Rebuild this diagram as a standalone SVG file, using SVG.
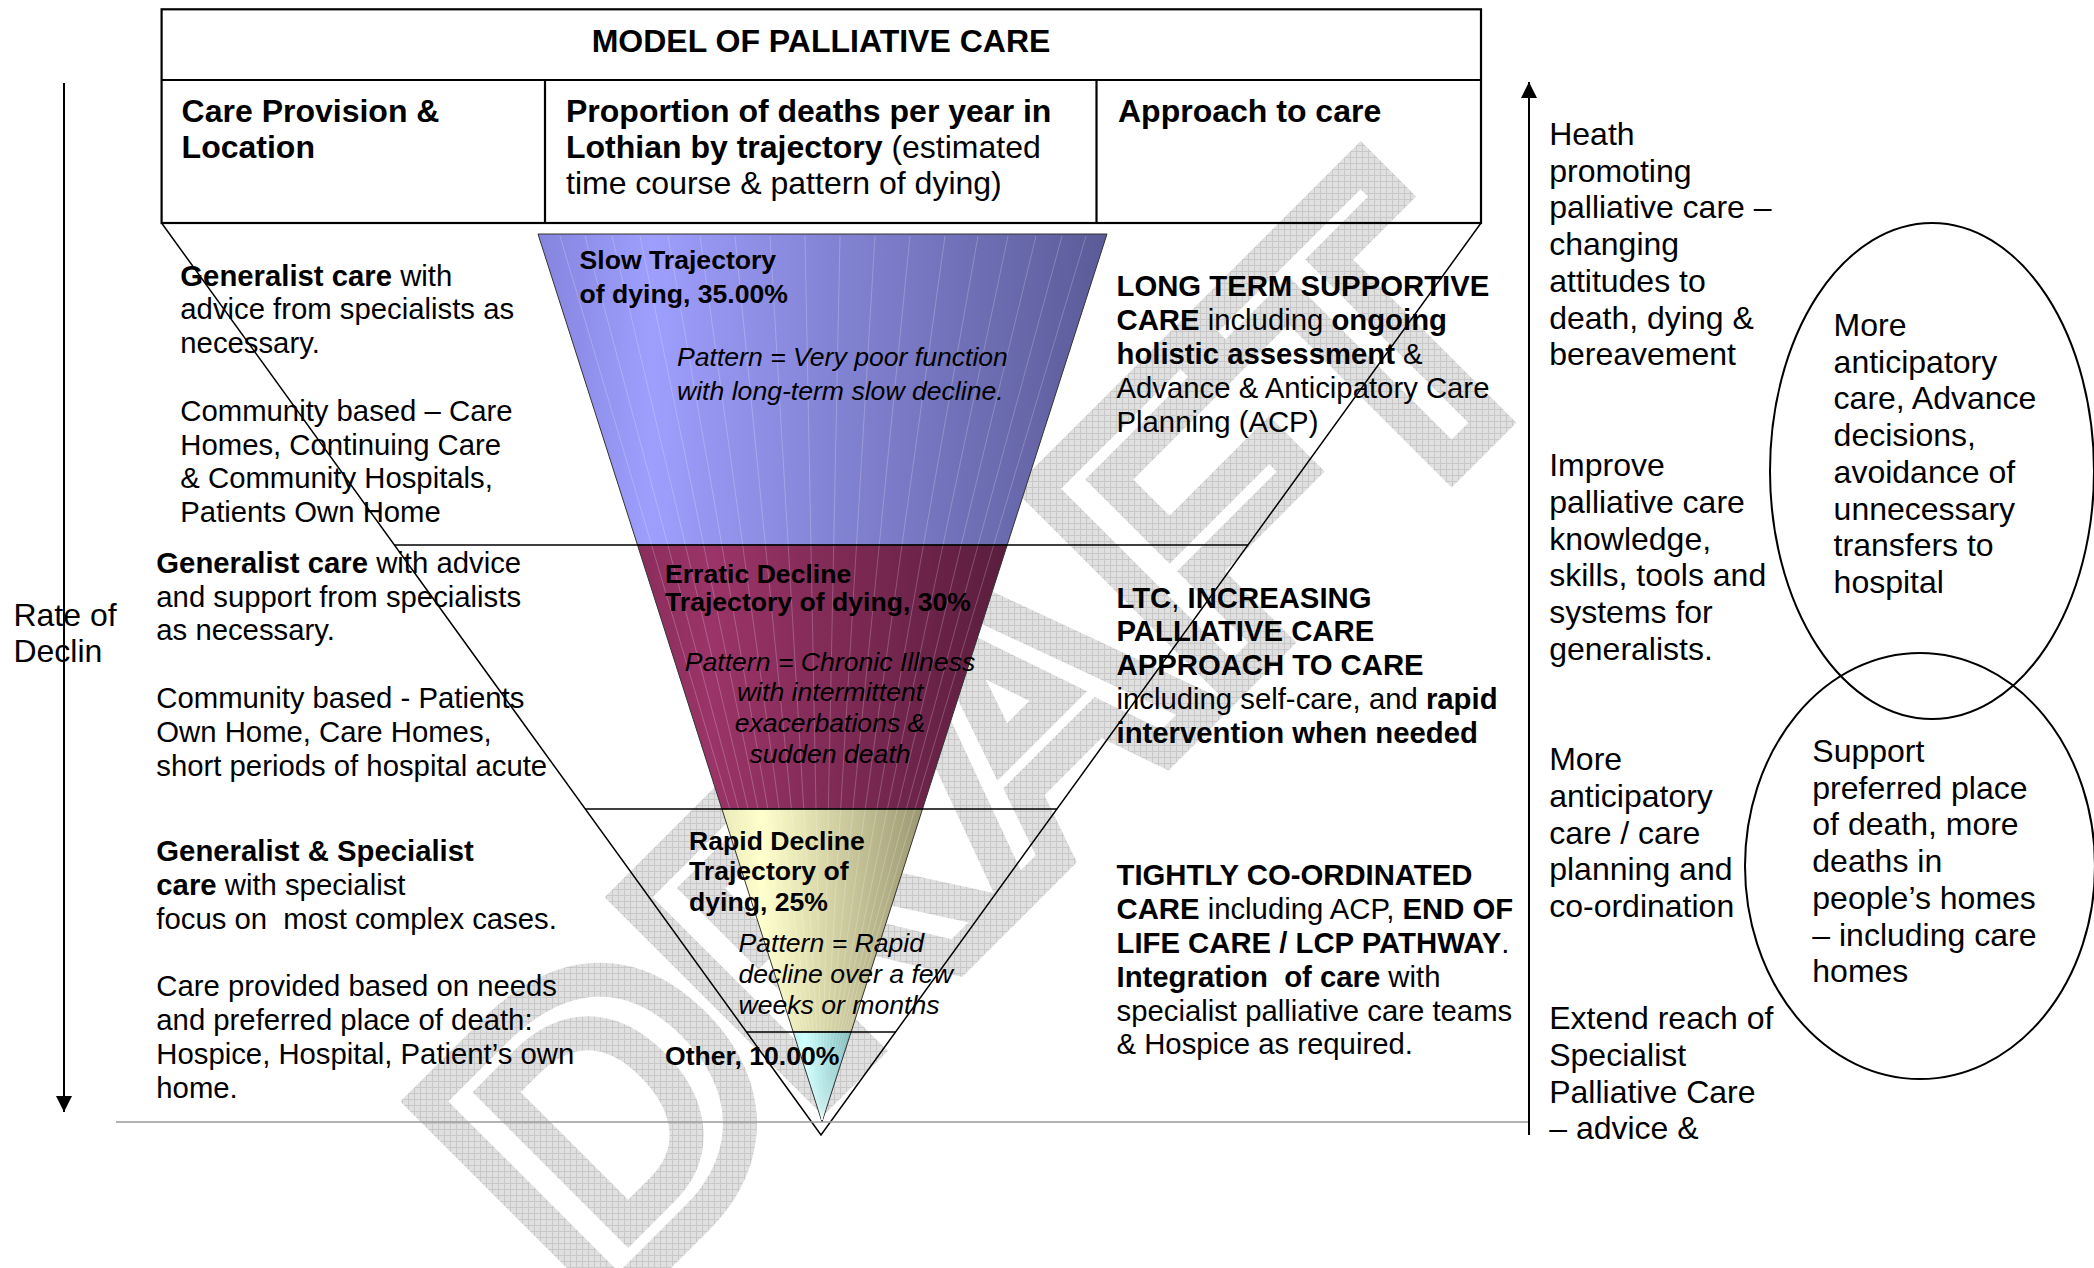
<svg xmlns="http://www.w3.org/2000/svg" width="2094" height="1268" viewBox="0 0 2094 1268">
<defs>
<style>
text{font-family:"Liberation Sans",Arial,Helvetica,sans-serif;fill:#000}
.b{font-weight:bold}
.s32{font-size:32px}
.s29{font-size:29.3px}
.s27{font-size:26.6px}
.it{font-style:italic}
.ln{stroke:#000;stroke-width:1.5;fill:none}
.tb{stroke:#000;stroke-width:2.2;fill:none}
.fn{stroke:#333;stroke-width:1}
</style>
<pattern id="hatch" width="6" height="6" patternUnits="userSpaceOnUse" patternTransform="rotate(45)"><rect width="6" height="6" fill="#e0e0e0"/><path d="M0 0.5H6M0.5 0V6" stroke="#c8c8c8" stroke-width="1"/></pattern>
<linearGradient id="gSlow" x1="0" y1="0" x2="1" y2="0"><stop offset="0" stop-color="#8585df"/><stop offset="0.2" stop-color="#9e9efd"/><stop offset="1" stop-color="#5b5b98"/></linearGradient>
<linearGradient id="gErr" x1="0" y1="0" x2="1" y2="0"><stop offset="0" stop-color="#8b2d5d"/><stop offset="0.2" stop-color="#9b3468"/><stop offset="1" stop-color="#5a1d3d"/></linearGradient>
<linearGradient id="gRap" x1="0" y1="0" x2="1" y2="0"><stop offset="0" stop-color="#eaeab8"/><stop offset="0.2" stop-color="#ffffcc"/><stop offset="1" stop-color="#9c9872"/></linearGradient>
<linearGradient id="gOth" x1="0" y1="0" x2="1" y2="0"><stop offset="0" stop-color="#bff0f0"/><stop offset="0.2" stop-color="#ccffff"/><stop offset="1" stop-color="#80b8b8"/></linearGradient>
<marker id="arr" viewBox="0 0 10 10" refX="10" refY="5" markerUnits="userSpaceOnUse" markerWidth="16" markerHeight="16" orient="auto"><path d="M0 0L10 5L0 10z" fill="#000"/></marker>
</defs>
<rect width="2094" height="1268" fill="#fff"/>

<g id="watermark">
<text transform="translate(600,1315) rotate(-45)" font-size="400" class="b" stroke="url(#hatch)" stroke-width="34" style="fill:none">DRAFT</text>
</g>

<g id="table">
<rect x="161.6" y="9.3" width="1319.4" height="213.7" class="tb"/>
<line x1="161.6" y1="80" x2="1481" y2="80" class="tb"/>
<line x1="545" y1="80" x2="545" y2="223" class="tb"/>
<line x1="1096.5" y1="80" x2="1096.5" y2="223" class="tb"/>
<text x="821" y="51.5" class="b s32" text-anchor="middle">MODEL OF PALLIATIVE CARE</text>
<text class="b s32"><tspan x="181.6" y="122">Care Provision &amp;</tspan><tspan x="181.6" y="158">Location</tspan></text>
<text class="s32"><tspan x="566" y="122" class="b">Proportion of deaths per year in</tspan><tspan x="566" y="158"><tspan class="b">Lothian by trajectory</tspan> (estimated</tspan><tspan x="566" y="194">time course &amp; pattern of dying)</tspan></text>
<text x="1118" y="122" class="b s32">Approach to care</text>
</g>

<g id="funnel">
<polygon points="538,234 1107,234 1007.2,545 637.5,545" fill="url(#gSlow)" class="fn"/>
<polygon points="637.5,545 1007.2,545 922.5,809 721.9,809" fill="url(#gErr)" class="fn"/>
<polygon points="721.9,809 922.5,809 851.1,1032 793.2,1032" fill="url(#gRap)" class="fn"/>
<polygon points="793.2,1032 851.1,1032 822,1122" fill="url(#gOth)" class="fn"/>
<path d="M560 236L822 1120M585 236L822 1120M612 236L822 1120M640 236L822 1120M668 236L822 1120M700 236L822 1120M735 236L822 1120M770 236L822 1120M805 236L822 1120M840 236L822 1120M875 236L822 1120M910 236L822 1120M945 236L822 1120M978 236L822 1120M1008 236L822 1120M1036 236L822 1120M1062 236L822 1120M1086 236L822 1120" stroke="#fff" stroke-opacity="0.28" stroke-width="0.8" fill="none"/>
</g>

<g id="connectors">
<polyline points="161.6,223 821,1135 1481,223" class="ln"/>
<line x1="394.4" y1="545" x2="1248.2" y2="545" class="ln"/>
<line x1="585.3" y1="809" x2="1057.3" y2="809" class="ln"/>
<line x1="746.5" y1="1032" x2="896" y2="1032" class="ln"/>
<line x1="116" y1="1122" x2="1529" y2="1122" stroke="#9a9a9a" stroke-width="1.5"/>
<line x1="64" y1="83" x2="64" y2="1112" stroke="#000" stroke-width="2" marker-end="url(#arr)"/>
<line x1="1529" y1="1135" x2="1529" y2="82" stroke="#000" stroke-width="2" marker-end="url(#arr)"/>
</g>

<g id="funnel-labels">
<text class="b s27"><tspan x="579.6" y="268.5">Slow Trajectory</tspan><tspan x="579.6" y="303.3">of dying, 35.00%</tspan></text>
<text class="it s27"><tspan x="677" y="366">Pattern = Very poor function</tspan><tspan x="677" y="399.5">with long-term slow decline.</tspan></text>
<text class="b s27"><tspan x="665" y="582.5">Erratic Decline</tspan><tspan x="665" y="610.5">Trajectory of dying, 30%</tspan></text>
<text class="it s27" text-anchor="middle"><tspan x="830" y="670.5">Pattern = Chronic Illness</tspan><tspan x="830" y="701.3">with intermittent</tspan><tspan x="830" y="732">exacerbations &amp;</tspan><tspan x="830" y="762.7">sudden death</tspan></text>
<text class="b s27"><tspan x="689" y="849.5">Rapid Decline</tspan><tspan x="689" y="880.3">Trajectory of</tspan><tspan x="689" y="911">dying, 25%</tspan></text>
<text class="it s27"><tspan x="738.5" y="952.4">Pattern = Rapid</tspan><tspan x="738.5" y="983">decline over a few</tspan><tspan x="738.5" y="1013.8">weeks or months</tspan></text>
<text x="665" y="1064.5" class="b s27">Other, 10.00%</text>
</g>

<g id="care-provision">
<text class="s29"><tspan x="180.3" y="285.5"><tspan class="b">Generalist care</tspan> with</tspan><tspan x="180.3" y="319.3">advice from specialists as</tspan><tspan x="180.3" y="353.1">necessary.</tspan><tspan x="180.3" y="420.7">Community based – Care</tspan><tspan x="180.3" y="454.5">Homes, Continuing Care</tspan><tspan x="180.3" y="488.3">&amp; Community Hospitals,</tspan><tspan x="180.3" y="522.1">Patients Own Home</tspan></text>
<text class="s29"><tspan x="156.3" y="572.7"><tspan class="b">Generalist care</tspan> with advice</tspan><tspan x="156.3" y="606.5">and support from specialists</tspan><tspan x="156.3" y="640.3">as necessary.</tspan><tspan x="156.3" y="707.9">Community based - Patients</tspan><tspan x="156.3" y="741.7">Own Home, Care Homes,</tspan><tspan x="156.3" y="775.5">short periods of hospital acute</tspan></text>
<text class="s29" xml:space="preserve"><tspan x="156.3" y="861.2" class="b">Generalist &amp; Specialist</tspan><tspan x="156.3" y="895"><tspan class="b">care</tspan> with specialist</tspan><tspan x="156.3" y="928.8">focus on  most complex cases.</tspan><tspan x="156.3" y="996.4">Care provided based on needs</tspan><tspan x="156.3" y="1030.2">and preferred place of death:</tspan><tspan x="156.3" y="1064">Hospice, Hospital, Patient’s own</tspan><tspan x="156.3" y="1097.8">home.</tspan></text>
</g>

<g id="approach">
<text class="s29"><tspan x="1116.5" y="296.3" class="b">LONG TERM SUPPORTIVE</tspan><tspan x="1116.5" y="330.1"><tspan class="b">CARE</tspan> including <tspan class="b">ongoing</tspan></tspan><tspan x="1116.5" y="363.9"><tspan class="b">holistic assessment</tspan> &amp;</tspan><tspan x="1116.5" y="397.7">Advance &amp; Anticipatory Care</tspan><tspan x="1116.5" y="431.5">Planning (ACP)</tspan></text>
<text class="s29"><tspan x="1116.5" y="607.5"><tspan class="b">LTC</tspan>, <tspan class="b">INCREASING</tspan></tspan><tspan x="1116.5" y="641.3" class="b">PALLIATIVE CARE</tspan><tspan x="1116.5" y="675.1" class="b">APPROACH TO CARE</tspan><tspan x="1116.5" y="708.9">including self-care, and <tspan class="b">rapid</tspan></tspan><tspan x="1116.5" y="742.7" class="b">intervention when needed</tspan></text>
<text class="s29" xml:space="preserve"><tspan x="1116.5" y="885.3" class="b">TIGHTLY CO-ORDINATED</tspan><tspan x="1116.5" y="919.1"><tspan class="b">CARE</tspan> including ACP, <tspan class="b">END OF</tspan></tspan><tspan x="1116.5" y="952.9"><tspan class="b">LIFE CARE / LCP PATHWAY</tspan>.</tspan><tspan x="1116.5" y="986.7"><tspan class="b">Integration  of care</tspan> with</tspan><tspan x="1116.5" y="1020.5">specialist palliative care teams</tspan><tspan x="1116.5" y="1054.3">&amp; Hospice as required.</tspan></text>
</g>

<g id="rate-of-decline">
<text class="s32"><tspan x="13.4" y="625.8">Rate of</tspan><tspan x="13.4" y="662">Declin</tspan></text>
</g>

<g id="strategies">
<text class="s32"><tspan x="1549.2" y="145">Heath</tspan><tspan x="1549.2" y="181.7">promoting</tspan><tspan x="1549.2" y="218.4">palliative care –</tspan><tspan x="1549.2" y="255.1">changing</tspan><tspan x="1549.2" y="291.8">attitudes to</tspan><tspan x="1549.2" y="328.5">death, dying &amp;</tspan><tspan x="1549.2" y="365.2">bereavement</tspan></text>
<text class="s32"><tspan x="1549.2" y="476.3">Improve</tspan><tspan x="1549.2" y="513">palliative care</tspan><tspan x="1549.2" y="549.7">knowledge,</tspan><tspan x="1549.2" y="586.4">skills, tools and</tspan><tspan x="1549.2" y="623.1">systems for</tspan><tspan x="1549.2" y="659.8">generalists.</tspan></text>
<text class="s32"><tspan x="1549.2" y="770.1">More</tspan><tspan x="1549.2" y="806.8">anticipatory</tspan><tspan x="1549.2" y="843.5">care / care</tspan><tspan x="1549.2" y="880.2">planning and</tspan><tspan x="1549.2" y="916.9">co-ordination</tspan></text>
<text class="s32"><tspan x="1549.2" y="1029.2">Extend reach of</tspan><tspan x="1549.2" y="1065.9">Specialist</tspan><tspan x="1549.2" y="1102.6">Palliative Care</tspan><tspan x="1549.2" y="1139.3">– advice &amp;</tspan></text>
</g>

<g id="ellipse-anticipatory">
<ellipse cx="1932" cy="471" rx="162" ry="248" class="tb" style="stroke-width:2"/>
<text class="s32"><tspan x="1833.6" y="336">More</tspan><tspan x="1833.6" y="372.7">anticipatory</tspan><tspan x="1833.6" y="409.4">care, Advance</tspan><tspan x="1833.6" y="446.1">decisions,</tspan><tspan x="1833.6" y="482.8">avoidance of</tspan><tspan x="1833.6" y="519.5">unnecessary</tspan><tspan x="1833.6" y="556.2">transfers to</tspan><tspan x="1833.6" y="592.9">hospital</tspan></text>
</g>

<g id="ellipse-support">
<ellipse cx="1920" cy="866" rx="175" ry="213" class="tb" style="stroke-width:2"/>
<text class="s32"><tspan x="1812.3" y="762">Support</tspan><tspan x="1812.3" y="798.7">preferred place</tspan><tspan x="1812.3" y="835.4">of death, more</tspan><tspan x="1812.3" y="872.1">deaths in</tspan><tspan x="1812.3" y="908.8">people’s homes</tspan><tspan x="1812.3" y="945.5">– including care</tspan><tspan x="1812.3" y="982.2">homes</tspan></text>
</g>
</svg>
